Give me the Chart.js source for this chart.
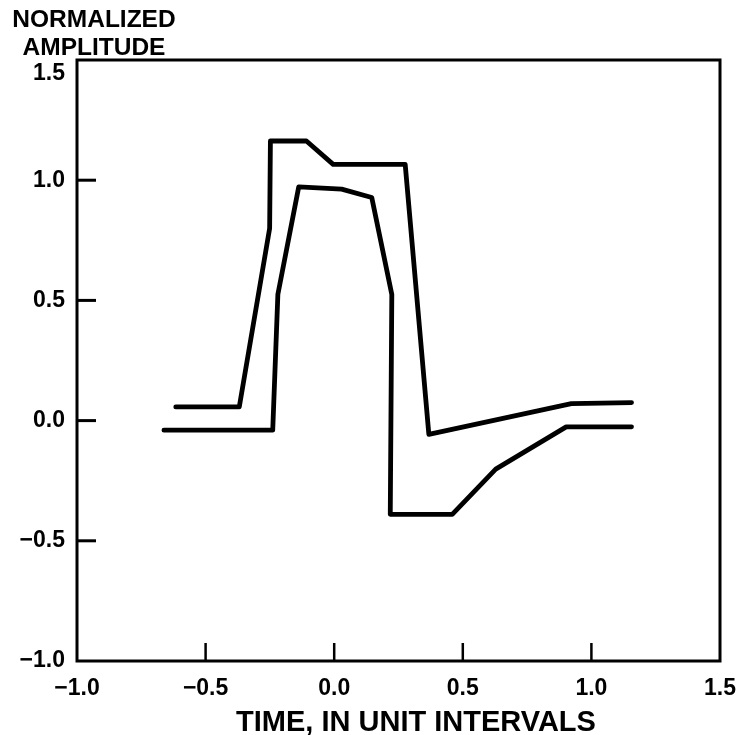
<!DOCTYPE html>
<html>
<head>
<meta charset="utf-8">
<script src="https://cdn.jsdelivr.net/npm/chart.js@4/dist/chart.umd.min.js"></script>
<style>
  html, body { margin: 0; padding: 0; background: #fff; }
  #wrap { width: 737px; height: 735px; }
</style>
</head>
<body>
<div id="wrap"><canvas id="myChart"></canvas></div>
<script>
// values
const upperX = [-0.616, -0.369, -0.251, -0.248, -0.108, -0.004, 0.276, 0.368, 0.922, 1.156];
const upperY = [0.057, 0.057, 0.80, 1.163, 1.163, 1.066, 1.066, -0.057, 0.071, 0.075];
const lowerX = [-0.662, -0.239, -0.219, -0.138, 0.029, 0.146, 0.224, 0.218, 0.459, 0.628, 0.902, 1.156];
const lowerY = [-0.040, -0.040, 0.525, 0.972, 0.963, 0.928, 0.525, -0.390, -0.390, -0.202, -0.026, -0.026];
const xTicks = [-1.0, -0.5, 0.0, 0.5, 1.0, 1.5];
const yTicks = [-1.0, -0.5, 0.0, 0.5, 1.0, 1.5];
const yTitle = ['NORMALIZED', 'AMPLITUDE'];
const xTitle = 'TIME, IN UNIT INTERVALS';

const FONT = '"Liberation Sans", Arial, sans-serif';
const fmt = v => (v < 0 ? '\u2212' : '') + Math.abs(v).toFixed(1);

// frame, inward tick marks and the two titles
const framePlugin = {
    id: 'frame',
    afterDraw(chart) {
        const { ctx, chartArea: a, scales } = chart;
        ctx.save();
        ctx.strokeStyle = '#000';
        ctx.lineWidth = 3;
        ctx.strokeRect(a.left, a.top, a.right - a.left, a.bottom - a.top);

        yTicks.slice(1, -1).forEach(v => {
            const y = scales.y.getPixelForValue(v);
            ctx.beginPath();
            ctx.moveTo(a.left, y);
            ctx.lineTo(a.left + 19, y);
            ctx.stroke();
        });
        ctx.lineWidth = 2.5;
        xTicks.slice(1, -1).forEach(v => {
            const x = scales.x.getPixelForValue(v);
            ctx.beginPath();
            ctx.moveTo(x, a.bottom);
            ctx.lineTo(x, a.bottom - 18);
            ctx.stroke();
        });

        ctx.fillStyle = '#000';
        ctx.textAlign = 'center';
        ctx.textBaseline = 'alphabetic';
        ctx.font = 'bold 24.5px ' + FONT;
        ctx.fillText(yTitle[0], 94, 27);
        ctx.fillText(yTitle[1], 94, 55);
        ctx.font = 'bold 29px ' + FONT;
        ctx.fillText(xTitle, 416, 731);
        ctx.restore();
    }
};

const toPts = (xs, ys) => xs.map((x, i) => ({ x: x, y: ys[i] }));

new Chart(document.getElementById('myChart'), {
    type: 'line',
    data: {
        datasets: [
            { data: toPts(upperX, upperY) },
            { data: toPts(lowerX, lowerY) }
        ]
    },
    options: {
        responsive: true,
        maintainAspectRatio: false,
        animation: false,
        layout: { padding: { top: 60, right: 17, left: 0, bottom: 0 } },
        elements: {
            line: { borderColor: '#000', borderWidth: 4.8, tension: 0, borderCapStyle: 'round', borderJoinStyle: 'round' },
            point: { radius: 0 }
        },
        plugins: { legend: { display: false }, tooltip: { enabled: false } },
        scales: {
            x: {
                type: 'linear',
                min: -1, max: 1.5,
                afterFit: s => { s.height = 74; s.paddingLeft = 0; s.paddingRight = 0; },
                afterBuildTicks: s => { s.ticks = xTicks.map(v => ({ value: v })); },
                grid: { display: false },
                border: { display: false },
                ticks: { color: '#000', padding: 6, maxRotation: 0, font: { family: FONT, size: 23, weight: 'bold' }, callback: fmt }
            },
            y: {
                min: -1, max: 1.5,
                afterFit: s => { s.width = 77; s.paddingTop = 0; s.paddingBottom = 0; },
                afterBuildTicks: s => { s.ticks = yTicks.map(v => ({ value: v })); },
                grid: { display: false },
                border: { display: false },
                ticks: {
                    color: '#000', padding: 4,
                    font: { family: FONT, size: 23, weight: 'bold' },
                    // top label sits a little below the corner, as in the original
                    callback: v => v === 1.5 ? ['', fmt(v)] : fmt(v)
                }
            }
        }
    },
    plugins: [framePlugin]
});
</script>
</body>
</html>
